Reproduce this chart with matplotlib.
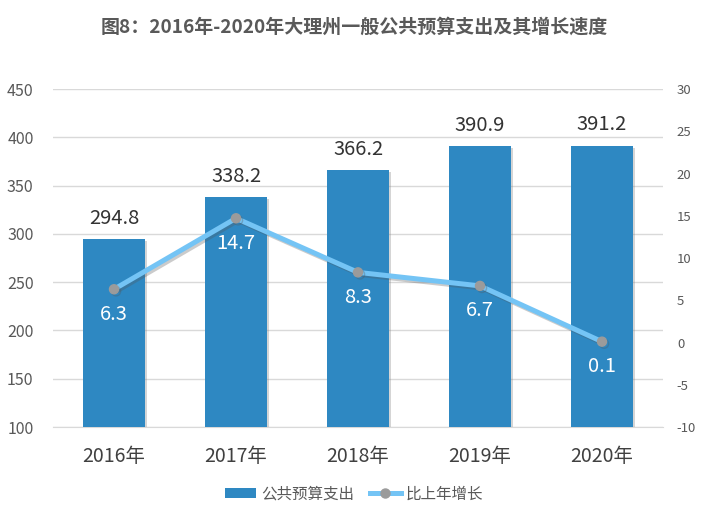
import matplotlib
matplotlib.use("Agg")
import matplotlib.pyplot as plt
import matplotlib.patheffects as pe
from matplotlib.patches import Patch
from matplotlib.lines import Line2D
import numpy as np

plt.rcParams['font.family'] = ['Noto Sans CJK SC', 'DejaVu Sans']

years = ["2016年", "2017年", "2018年", "2019年", "2020年"]
spending = [294.8, 338.2, 366.2, 390.9, 391.2]
growth = [6.3, 14.7, 8.3, 6.7, 0.1]
left_ticks = [100, 150, 200, 250, 300, 350, 400, 450]
right_ticks = [-10, -5, 0, 5, 10, 15, 20, 25, 30]

fig = plt.figure(figsize=(7.08, 5.16), dpi=100)
ax = fig.add_axes([53/708, 1-427/516, 610/708, 338/516])
x = np.arange(len(years))

bar_color = "#2E88C2"
line_color = "#74C4F5"
ax.bar(x, np.array(spending) - 100, bottom=100, width=0.51, color=bar_color, zorder=2,
       path_effects=[pe.SimplePatchShadow(offset=(1.5, -1.5), shadow_rgbFace='#888888', alpha=0.35), pe.Normal()])
ax.set_ylim(100, 450)
ax.set_xlim(-0.5, 4.5)
ax.set_yticks(left_ticks)
ax.set_yticklabels([str(v) for v in left_ticks])
ax.tick_params(axis='y', length=0, labelsize=11.5, labelcolor="#595959", pad=14)
ax.set_xticks(x)
ax.set_xticklabels(years)
ax.tick_params(axis='x', length=0, labelsize=14, labelcolor="#404040", pad=14)
ax.grid(axis='y', color="#D9D9D9", linewidth=1, zorder=0)
for s in ["top", "right", "left"]:
    ax.spines[s].set_visible(False)
ax.spines["bottom"].set_color("#D9D9D9")
ax.spines["bottom"].set_zorder(1)

for xi, v in zip(x, spending):
    ax.annotate(f"{v:.1f}", (xi, v), xytext=(0, 15), textcoords="offset points",
                ha="center", va="center", fontsize=14.5, color="#333333", zorder=5)

ax2 = ax.twinx()
ax2.set_ylim(-10, 30)
ax2.set_yticks(right_ticks)
ax2.set_yticklabels([str(v) for v in right_ticks])
ax2.tick_params(axis='y', length=0, labelsize=9.5, labelcolor="#595959", pad=10)
for s in ax2.spines.values():
    s.set_visible(False)
ax2.plot(x, growth, color=line_color, linewidth=3.6, marker="o", markersize=6.5,
         markerfacecolor="#9B9B9B", markeredgecolor="#9B9B9B", zorder=3, solid_capstyle='round',
         path_effects=[pe.SimpleLineShadow(offset=(1.5, -1.5), shadow_color='#555555', alpha=0.3), pe.Normal()])
for xi, v in zip(x, growth):
    ax2.annotate(f"{v}", (xi, v), xytext=(0, -18), textcoords="offset points",
                 ha="center", va="center", fontsize=14.5, color="white", zorder=5)

fig.text(0.5, 1-27/516, "图8：2016年-2020年大理州一般公共预算支出及其增长速度", ha="center", va="center",
         fontsize=13.7, fontweight="bold", color="#595959")

handles = [Patch(facecolor=bar_color, label="公共预算支出"),
           Line2D([0], [0], color=line_color, linewidth=3.6, marker="o", markersize=6.5,
                  markerfacecolor="#9B9B9B", markeredgecolor="#9B9B9B", label="比上年增长")]
fig.legend(handles=handles, loc="center", bbox_to_anchor=(0.5, 1-494/516), ncol=2, frameon=False,
           fontsize=11.2, labelcolor="#595959", handlelength=2.0, handleheight=0.55, columnspacing=1.0,
           handletextpad=0.3)

fig.savefig("out.png", dpi=100)
